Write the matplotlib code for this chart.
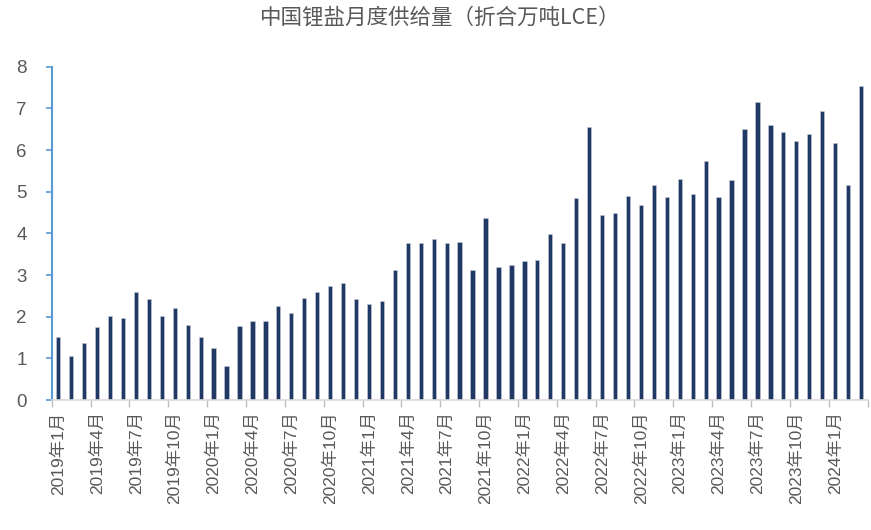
import numpy as np
import matplotlib
matplotlib.use("Agg")
import matplotlib.pyplot as plt

plt.rcParams['font.family'] = ['Liberation Sans', 'Noto Sans CJK SC', 'DejaVu Sans']

# 2019-01 ~ 2024-03 月度供给量（万吨LCE）
years = [2019] * 12 + [2020] * 12 + [2021] * 12 + [2022] * 12 + [2023] * 12 + [2024] * 3
months = list(range(1, 13)) * 5 + [1, 2, 3]
supply = [
    1.52, 1.06, 1.38, 1.75, 2.03, 1.96, 2.59, 2.42, 2.03, 2.21, 1.80, 1.52,
    1.26, 0.83, 1.78, 1.89, 1.89, 2.27, 2.09, 2.44, 2.59, 2.73, 2.82, 2.42,
    2.30, 2.39, 3.12, 3.77, 3.77, 3.86, 3.77, 3.80, 3.12, 4.38, 3.20, 3.25,
    3.34, 3.37, 3.98, 3.77, 4.85, 6.55, 4.44, 4.50, 4.90, 4.68, 5.16, 4.88,
    5.31, 4.94, 5.75, 4.88, 5.28, 6.50, 7.16, 6.61, 6.44, 6.21, 6.38, 6.93,
    6.18, 5.17, 7.54,
]
labels = [f"{y}年{m}月" for y, m in zip(years, months)]

fig = plt.figure(figsize=(8.71, 5.30), dpi=100)
ax = fig.add_axes([0.0594, 0.245, 0.9366, 0.629])

x = np.arange(len(supply))
ax.bar(x, supply, width=0.33, color='#203864', edgecolor='#c8cfdc', linewidth=0.4)

ax.set_xlim(-0.5, len(supply) - 0.5)
ax.set_ylim(0, 8)
ax.set_yticks(range(0, 9))

# 标签每3个月一个，刻度线在类别边界
ax.set_xticks(x[::3])
ax.set_xticklabels(labels[::3], rotation=90, fontsize=12.5, color='#595959')
ax.set_xticks(np.arange(-0.5, len(supply), 3), minor=True)
ax.tick_params(axis='x', which='major', length=0, pad=8)
ax.tick_params(axis='x', which='minor', length=5, color='#bfbfbf', width=1)
ax.tick_params(axis='y', length=4, color='#5b9bd5', width=1.2,
               labelsize=13.5, labelcolor='#595959', pad=14)

for s in ['top', 'right']:
    ax.spines[s].set_visible(False)
ax.spines['left'].set_color('#5b9bd5')
ax.spines['left'].set_linewidth(1.5)
ax.spines['bottom'].set_color('#d9d9d9')
ax.spines['bottom'].set_linewidth(1.2)

fig.suptitle("中国锂盐月度供给量（折合万吨LCE）", x=0.505, y=0.988, fontsize=15.5,
             color='#595959', fontweight='light',
             family=['Noto Sans CJK SC', 'DejaVu Sans'])

fig.savefig("out.png", dpi=100)
